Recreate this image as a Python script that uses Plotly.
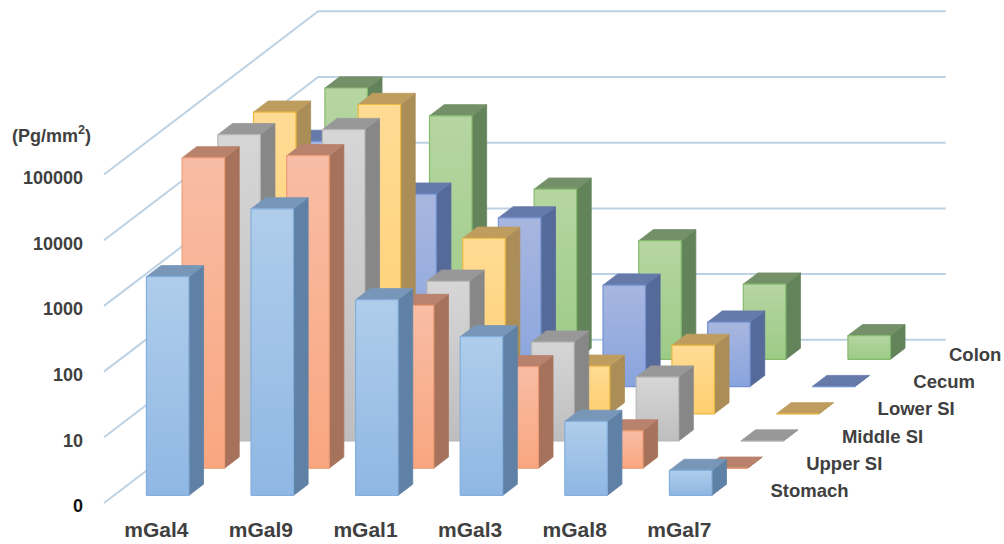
import numpy as np
import plotly.graph_objects as go

# Mucin-type glycan abundance per gut segment (log-scaled axis, 0 sits on the floor)
categories = ["mGal4", "mGal9", "mGal1", "mGal3", "mGal8", "mGal7"]
series_names = ["Stomach", "Upper SI", "Middle SI", "Lower SI", "Cecum", "Colon"]
stomach = [2130, 23000, 950, 260, 13.4, 2.4]
upper_si = [53000, 57000, 300, 35, 3.7, 0]
middle_si = [46000, 55000, 270, 32, 9.4, 0]
lower_si = [39000, 51000, 470, 5.3, 11, 0]
cecum = [5400, 850, 370, 35, 9.6, 0]
colon = [13500, 5100, 390, 64, 14, 2.3]
tick_values = [1, 10, 100, 1000, 10000, 100000]
tick_labels = ['<span style="color:#111111">0</span>', "10", "100", "1000", "10000", "100000"]

series_values = [stomach, upper_si, middle_si, lower_si, cecum, colon]

# Colours per series: front gradient top, front gradient bottom, border, top face, side face
palette = [
    ("#AFCDEB", "#8FB7E3", "#84AEDD", "#7897B8", "#5F81A5"),
    ("#F8BDA6", "#F9A67F", "#EE9C74", "#B9826C", "#A6725B"),
    ("#D6D6D6", "#BEBEBE", "#B8B8B8", "#989898", "#878787"),
    ("#FFDB94", "#FFCF70", "#EDB83F", "#BE9D5F", "#AB8E57"),
    ("#A8B6DF", "#88A4DE", "#7393D3", "#667AA9", "#566A99"),
    ("#B6D5A2", "#9CCB86", "#86BB6E", "#739068", "#63835A"),
]
GRID = "#BCD2E4"
TEXT = "#404040"

# Oblique projection: one depth slot moves a point right and up on the page
PX_PER_CAT = 104.6
PX_PER_DECADE = 65.7
DEPTH_X = 35.7 / PX_PER_CAT
DEPTH_Y = 27.2 / PX_PER_DECADE
BAR_LEFT, BAR_RIGHT = -0.19, 0.216
DEPTH_START, DEPTH_SIZE = 0.28, 0.41
MARGIN_L, MARGIN_B = 90, 29
FLOOR_PAD = 12  # pixels of plot area kept under the zero level
WIDTH, HEIGHT = 1004, 544
TICK_NUDGE = 3 / PX_PER_DECADE  # value labels sit slightly under their gridline start


def project(cat, depth, level):
    return cat + depth * DEPTH_X, level + depth * DEPTH_Y


def decades(value):
    return np.log10(value) if value >= 1 else 0.0


def polygon(points):
    xs, ys = zip(*[project(*p) for p in points])
    return list(xs) + [xs[0]], list(ys) + [ys[0]]


fig = go.Figure()

# Walls: each gridline runs along the side wall, then across the back wall
n_depth = len(series_names)
wall_left = -0.5
wall_right = len(categories) - 0.5
for value in tick_values:
    lv = decades(value)
    xs, ys = zip(*[project(wall_left, 0, lv), project(wall_left, n_depth, lv), project(wall_right, n_depth, lv)])
    fig.add_trace(go.Scatter(x=xs, y=ys, mode="lines", line=dict(color=GRID, width=2),
                             hoverinfo="skip", showlegend=False))

# Bars are painted from the back row forward so nearer rows cover farther ones
for s in reversed(range(n_depth)):
    front_top, front_bottom, border, top_face, side_face = palette[s]
    d0 = s + DEPTH_START
    d1 = d0 + DEPTH_SIZE
    for c, value in enumerate(series_values[s]):
        h = decades(value)
        l, r = c + BAR_LEFT, c + BAR_RIGHT
        # side face
        x, y = polygon([(r, d0, 0), (r, d1, 0), (r, d1, h), (r, d0, h)])
        fig.add_trace(go.Scatter(x=x, y=y, mode="lines", fill="toself", fillcolor=side_face,
                                 line=dict(color=side_face, width=0.8), hoverinfo="skip", showlegend=False))
        # top face
        x, y = polygon([(l, d0, h), (r, d0, h), (r, d1, h), (l, d1, h)])
        fig.add_trace(go.Scatter(x=x, y=y, mode="lines", fill="toself", fillcolor=top_face,
                                 line=dict(color=top_face, width=0.8), hoverinfo="skip", showlegend=False))
        # front face with a vertical gradient
        x, y = polygon([(l, d0, 0), (r, d0, 0), (r, d0, h), (l, d0, h)])
        fig.add_trace(go.Scatter(x=x, y=y, mode="lines", fill="toself",
                                 fillgradient=dict(type="vertical",
                                                   colorscale=[[0, front_bottom], [1, front_top]]),
                                 line=dict(color=border, width=1.2),
                                 name=series_names[s], hoverinfo="skip", showlegend=False))

# Row names sit along the floor to the right of the last category
label_xy = [project(wall_right + 0.215, s + 0.46, -0.03) for s in range(n_depth)]
fig.add_trace(go.Scatter(x=[p[0] for p in label_xy], y=[p[1] for p in label_xy], mode="text",
                         text=series_names, textposition="middle right",
                         textfont=dict(family="Liberation Sans", size=18.5, color=TEXT, weight="bold"),
                         hoverinfo="skip", showlegend=False, cliponaxis=False))

plot_w = WIDTH - MARGIN_L
plot_h = HEIGHT - MARGIN_B
x0 = -0.5 - (104 - MARGIN_L) / PX_PER_CAT
y0 = -FLOOR_PAD / PX_PER_DECADE
fig.update_layout(
    width=WIDTH, height=HEIGHT,
    margin=dict(l=MARGIN_L, r=0, t=0, b=MARGIN_B, pad=0),
    paper_bgcolor="white", plot_bgcolor="white",
    showlegend=False,
    xaxis=dict(range=[x0, x0 + plot_w / PX_PER_CAT], tickmode="array",
               tickvals=list(range(len(categories))), ticktext=categories,
               showgrid=False, zeroline=False, showline=False, ticks="",
               ticklabelstandoff=0,
               tickfont=dict(family="Liberation Sans", size=21, color=TEXT, weight="bold")),
    yaxis=dict(range=[y0, y0 + plot_h / PX_PER_DECADE], tickmode="array",
               tickvals=[decades(v) - TICK_NUDGE for v in tick_values], ticktext=tick_labels,
               showgrid=False, zeroline=False, showline=False, ticks="",
               ticklabelstandoff=6,
               tickfont=dict(family="Liberation Sans", size=18, color=TEXT, weight="bold")),
    annotations=[dict(text="(Pg/mm<sup>2</sup>)", xref="paper", yref="paper",
                      x=(10 - MARGIN_L) / plot_w, y=(515 - 134) / plot_h,
                      xanchor="left", yanchor="middle", showarrow=False,
                      font=dict(family="Liberation Sans", size=18, color=TEXT, weight="bold"))],
)

fig.write_html("out.html")
